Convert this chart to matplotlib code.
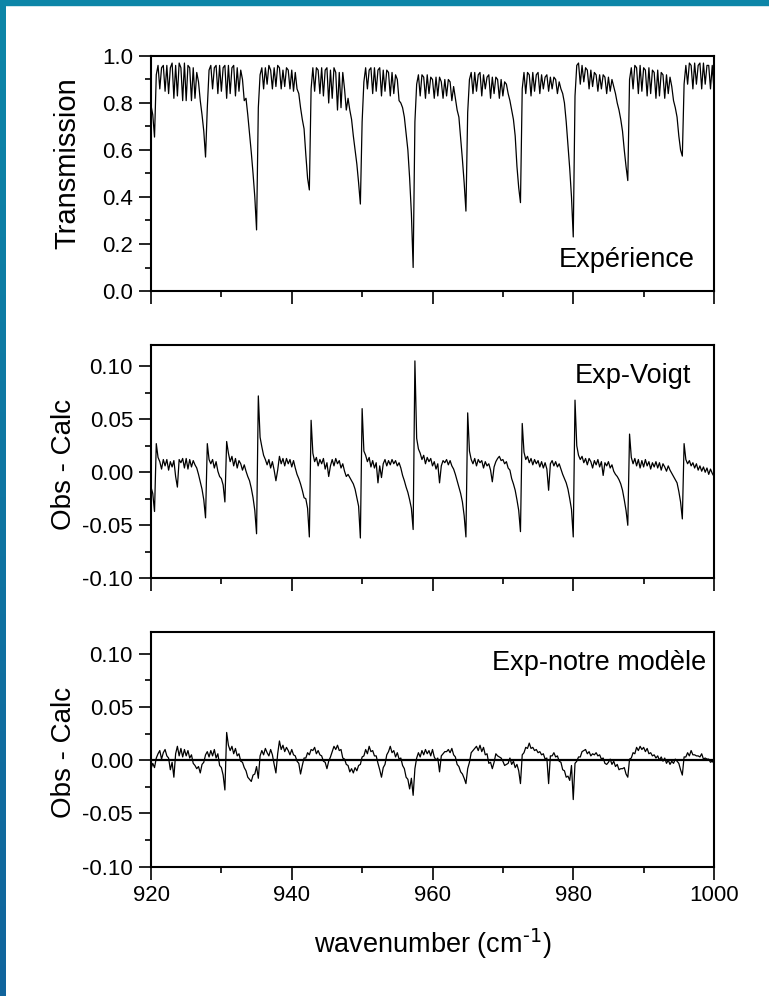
import numpy as np
import matplotlib
matplotlib.use("Agg")
import matplotlib.pyplot as plt
from matplotlib.ticker import MultipleLocator, FormatStrFormatter
from matplotlib.patches import Rectangle

plt.rcParams['font.family'] = ['Liberation Sans', 'DejaVu Sans']
plt.rcParams['mathtext.default'] = 'regular'
plt.rcParams['axes.unicode_minus'] = False

# wavenumber grid of the spectra (cm-1), one sample every 0.25
wn = np.arange(920.0, 1000.001, 0.25)

# transmission (experiment), 8 samples per 2 cm-1
transmission = [
    0.79, 0.75, 0.655, 0.92, 0.96, 0.86, 0.95, 0.96,   # 920
    0.85, 0.96, 0.84, 0.95, 0.97, 0.82, 0.96, 0.83,    # 922
    0.97, 0.95, 0.81, 0.97, 0.81, 0.96, 0.95, 0.81,    # 924
    0.95, 0.82, 0.93, 0.89, 0.81, 0.75, 0.68, 0.57,    # 926
    0.78, 0.94, 0.96, 0.86, 0.95, 0.96, 0.84, 0.96,    # 928
    0.85, 0.95, 0.96, 0.82, 0.96, 0.84, 0.95, 0.96,    # 930
    0.83, 0.95, 0.85, 0.94, 0.90, 0.81, 0.82, 0.75,    # 932
    0.67, 0.59, 0.50, 0.40, 0.26, 0.78, 0.92, 0.95,    # 934
    0.86, 0.95, 0.88, 0.96, 0.94, 0.86, 0.95, 0.87,    # 936
    0.96, 0.95, 0.86, 0.94, 0.87, 0.95, 0.94, 0.86,    # 938
    0.94, 0.85, 0.93, 0.86, 0.84, 0.78, 0.73, 0.69,    # 940
    0.58, 0.48, 0.43, 0.86, 0.95, 0.85, 0.95, 0.94,    # 942
    0.84, 0.95, 0.83, 0.94, 0.95, 0.80, 0.94, 0.82,    # 944
    0.95, 0.93, 0.77, 0.93, 0.78, 0.93, 0.86, 0.77,    # 946
    0.82, 0.77, 0.73, 0.66, 0.60, 0.54, 0.46, 0.37,    # 948
    0.72, 0.89, 0.95, 0.86, 0.94, 0.95, 0.84, 0.95,    # 950
    0.85, 0.94, 0.95, 0.83, 0.94, 0.85, 0.94, 0.93,    # 952
    0.83, 0.93, 0.84, 0.92, 0.90, 0.81, 0.80, 0.78,    # 954
    0.74, 0.67, 0.60, 0.48, 0.33, 0.10, 0.72, 0.88,    # 956
    0.92, 0.83, 0.92, 0.91, 0.82, 0.92, 0.84, 0.91,    # 958
    0.90, 0.82, 0.91, 0.83, 0.91, 0.89, 0.82, 0.90,    # 960
    0.83, 0.90, 0.89, 0.81, 0.87, 0.82, 0.77, 0.74,    # 962
    0.65, 0.56, 0.46, 0.34, 0.76, 0.90, 0.93, 0.84,    # 964
    0.93, 0.85, 0.92, 0.93, 0.83, 0.92, 0.86, 0.91,    # 966
    0.92, 0.82, 0.91, 0.84, 0.91, 0.90, 0.82, 0.90,    # 968
    0.83, 0.89, 0.88, 0.84, 0.81, 0.77, 0.73, 0.66,    # 970
    0.53, 0.44, 0.376, 0.86, 0.93, 0.84, 0.93, 0.92,   # 972
    0.83, 0.93, 0.85, 0.92, 0.93, 0.84, 0.92, 0.86,    # 974
    0.91, 0.92, 0.85, 0.91, 0.86, 0.91, 0.90, 0.84,    # 976
    0.89, 0.86, 0.84, 0.80, 0.72, 0.62, 0.52, 0.40,    # 978
    0.23, 0.83, 0.96, 0.97, 0.88, 0.96, 0.89, 0.95,    # 980
    0.94, 0.86, 0.94, 0.87, 0.93, 0.92, 0.85, 0.92,    # 982
    0.86, 0.92, 0.91, 0.84, 0.91, 0.85, 0.90, 0.87,    # 984
    0.84, 0.80, 0.77, 0.73, 0.68, 0.60, 0.53, 0.47,    # 986
    0.90, 0.95, 0.86, 0.96, 0.95, 0.84, 0.96, 0.85,    # 988
    0.95, 0.94, 0.83, 0.95, 0.84, 0.94, 0.93, 0.82,    # 990
    0.94, 0.83, 0.93, 0.92, 0.82, 0.92, 0.84, 0.91,    # 992
    0.87, 0.81, 0.78, 0.74, 0.66, 0.60, 0.574, 0.88,   # 994
    0.96, 0.88, 0.97, 0.96, 0.86, 0.97, 0.88, 0.96,    # 996
    0.97, 0.86, 0.97, 0.88, 0.96, 0.96, 0.86, 0.96,    # 998
    0.855,
]

# residuals experiment - Voigt profile
res_voigt = [
    -0.014, -0.020, -0.037, 0.027, 0.014, 0.010, 0.003, 0.012,    # 920
    0.006, 0.012, 0.002, 0.010, 0.005, 0.011, -0.004, -0.014,     # 922
    0.012, 0.009, 0.013, 0.004, 0.013, 0.003, 0.012, 0.005,       # 924
    0.011, 0.007, 0.004, -0.002, -0.009, -0.016, -0.026, -0.043,  # 926
    0.027, 0.012, 0.008, 0.012, 0.004, 0.010, 0.001, -0.004,      # 928
    -0.006, -0.012, -0.028, 0.029, 0.018, 0.010, 0.015, 0.006,    # 930
    0.013, 0.004, 0.011, 0.008, 0.002, 0.007, 0.001, -0.004,      # 932
    -0.008, -0.015, -0.024, -0.036, -0.058, 0.072, 0.033, 0.024,  # 934
    0.016, 0.012, 0.007, 0.012, 0.004, 0.010, 0.002, -0.008,      # 936
    0.002, 0.015, 0.008, 0.013, 0.006, 0.013, 0.008, 0.012,       # 938
    0.005, 0.011, 0.004, -0.002, -0.006, -0.011, -0.017, -0.024,  # 940
    -0.025, -0.034, -0.061, 0.049, 0.018, 0.010, 0.014, 0.006,    # 942
    0.012, 0.008, 0.013, 0.003, 0.009, -0.004, 0.006, 0.012,      # 944
    0.006, 0.013, 0.008, 0.011, 0.004, 0.008, 0.001, -0.004,      # 946
    -0.002, -0.005, -0.008, -0.011, -0.016, -0.024, -0.032, -0.062,  # 948
    0.060, 0.020, 0.016, 0.010, 0.014, 0.005, 0.011, 0.004,       # 950
    0.009, -0.010, 0.006, -0.005, 0.008, 0.012, 0.006, 0.011,     # 952
    0.007, 0.012, 0.008, 0.011, 0.006, 0.009, 0.004, -0.003,      # 954
    -0.008, -0.014, -0.019, -0.026, -0.034, -0.054, 0.105, 0.032,  # 956
    0.022, 0.018, 0.012, 0.016, 0.008, 0.014, 0.010, 0.013,       # 958
    0.006, 0.010, 0.003, 0.008, -0.010, 0.006, 0.011, 0.009,      # 960
    0.012, 0.007, 0.011, 0.006, 0.003, -0.002, -0.008, -0.014,    # 962
    -0.020, -0.028, -0.041, -0.061, 0.056, 0.020, 0.012, 0.008,   # 964
    0.013, 0.006, 0.012, 0.009, 0.011, 0.004, 0.010, 0.006,       # 966
    0.008, 0.002, -0.009, 0.005, 0.010, 0.013, 0.015, 0.011,      # 968
    0.012, 0.008, 0.010, 0.004, 0.002, -0.006, -0.011, -0.017,    # 970
    -0.026, -0.036, -0.056, 0.046, 0.019, 0.012, 0.015, 0.009,    # 972
    0.013, 0.007, 0.012, 0.008, 0.011, 0.005, 0.010, 0.004,       # 974
    0.009, 0.003, -0.017, 0.008, 0.011, 0.006, 0.010, 0.005,      # 976
    0.008, 0.003, -0.002, -0.006, -0.010, -0.016, -0.025, -0.035,  # 978
    -0.061, 0.068, 0.025, 0.016, 0.012, 0.015, 0.009, 0.013,      # 980
    0.007, 0.013, 0.010, 0.004, 0.011, 0.007, 0.012, 0.005,       # 982
    0.010, -0.003, 0.009, 0.006, 0.010, 0.004, 0.007, 0.001,      # 984
    -0.002, -0.004, -0.007, -0.011, -0.017, -0.026, -0.036, -0.050,  # 986
    0.036, 0.014, 0.008, 0.013, 0.006, 0.012, 0.004, 0.011,       # 988
    0.005, 0.012, 0.006, 0.010, 0.003, 0.009, 0.005, 0.010,       # 990
    0.004, 0.009, 0.002, 0.008, 0.005, 0.001, 0.006, 0.002,       # 992
    -0.001, -0.004, -0.007, -0.010, -0.018, -0.028, -0.044, 0.027,  # 994
    0.012, 0.008, 0.011, 0.006, 0.009, 0.004, 0.008, 0.002,       # 996
    0.006, 0.001, 0.005, 0.000, 0.004, -0.002, 0.003, -0.001,     # 998
    -0.004,
]

# residuals experiment - our model
res_model = [
    -0.008, -0.003, -0.007, 0.002, 0.006, 0.009, 0.001, 0.007,    # 920
    0.010, 0.004, 0.002, -0.009, -0.002, -0.016, 0.006, 0.013,    # 922
    0.004, 0.011, 0.003, 0.010, 0.004, 0.009, 0.002, 0.005,       # 924
    -0.003, -0.005, -0.008, -0.006, -0.012, -0.004, -0.002, 0.005,  # 926
    0.008, 0.003, 0.009, 0.004, 0.010, 0.002, 0.006, -0.005,      # 928
    -0.007, -0.014, -0.028, 0.026, 0.014, 0.009, 0.013, 0.006,    # 930
    0.011, 0.004, 0.006, -0.001, -0.002, -0.007, -0.010, -0.016,  # 932
    -0.018, -0.020, -0.014, -0.013, -0.006, -0.017, 0.004, 0.009,  # 934
    0.005, 0.011, 0.007, 0.004, 0.010, 0.005, -0.004, -0.012,     # 936
    0.006, 0.018, 0.010, 0.014, 0.008, 0.012, 0.009, 0.005,       # 938
    0.010, 0.005, 0.004, -0.001, -0.003, -0.013, -0.005, 0.002,   # 940
    0.002, 0.007, 0.005, 0.010, 0.009, 0.012, 0.006, 0.009,       # 942
    0.005, 0.004, -0.001, -0.002, -0.008, -0.001, 0.003, 0.008,   # 944
    0.013, 0.010, 0.014, 0.009, 0.010, 0.002, 0.001, -0.004,      # 946
    -0.005, -0.011, -0.008, -0.012, -0.007, -0.010, -0.005, -0.004,  # 948
    0.003, 0.004, 0.010, 0.006, 0.013, 0.008, 0.009, 0.004,       # 950
    0.004, -0.003, -0.009, -0.016, -0.007, -0.004, 0.005, 0.008,  # 952
    0.013, 0.007, 0.009, 0.003, 0.007, 0.001, 0.002, -0.005,      # 954
    -0.008, -0.016, -0.018, -0.027, -0.017, -0.033, -0.008, 0.002,  # 956
    0.007, 0.003, 0.009, 0.005, 0.010, 0.006, 0.009, 0.004,       # 958
    0.010, 0.003, 0.000, 0.002, -0.011, 0.004, 0.006, 0.008,      # 960
    0.008, 0.010, 0.007, 0.011, 0.005, 0.003, -0.004, -0.006,     # 962
    -0.011, -0.013, -0.017, -0.022, -0.008, -0.002, 0.007, 0.009,  # 964
    0.011, 0.013, 0.009, 0.014, 0.008, 0.012, 0.005, 0.006,       # 966
    -0.003, -0.002, -0.008, -0.002, 0.006, 0.004, 0.003, 0.002,   # 968
    -0.001, -0.005, -0.004, -0.003, 0.002, -0.004, -0.001, -0.007,  # 970
    -0.004, -0.010, -0.022, 0.005, 0.007, 0.012, 0.011, 0.016,    # 972
    0.011, 0.012, 0.009, 0.010, 0.007, 0.008, 0.005, 0.006,       # 974
    0.001, 0.002, -0.022, 0.004, 0.004, 0.007, 0.003, 0.004,      # 976
    -0.001, -0.002, -0.009, -0.010, -0.016, -0.015, -0.019, -0.005,  # 978
    -0.037, -0.003, -0.001, 0.003, 0.003, 0.008, 0.009, 0.010,    # 980
    0.006, 0.008, 0.004, 0.006, 0.005, 0.007, 0.004, 0.005,       # 982
    0.001, 0.002, -0.003, -0.004, -0.002, 0.001, -0.004, -0.001,  # 984
    -0.006, -0.004, -0.009, -0.008, -0.008, -0.007, -0.013, -0.016,  # 986
    0.001, 0.002, 0.007, 0.006, 0.012, 0.009, 0.013, 0.010,       # 988
    0.012, 0.008, 0.011, 0.006, 0.007, 0.004, 0.005, 0.002,       # 990
    0.004, 0.000, 0.003, -0.001, 0.002, -0.003, 0.000, -0.004,    # 992
    -0.001, -0.003, 0.001, -0.001, -0.003, -0.009, -0.014, 0.003,  # 994
    0.003, 0.007, 0.004, 0.009, 0.005, 0.005, 0.004, 0.004,       # 996
    0.003, 0.006, 0.001, 0.002, 0.001, 0.001, -0.002, -0.001,     # 998
    -0.003,
]

fig = plt.figure(figsize=(7.69, 9.96), dpi=100)

# blue frame on the left and top of the picture
bar = fig.add_axes([0, 0, 6 / 769, 1])
grad = np.linspace(0, 1, 256).reshape(-1, 1)
top_c = np.array([13, 134, 168]) / 255
bot_c = np.array([16, 100, 156]) / 255
bar.imshow(top_c + grad[..., None] * (bot_c - top_c), aspect='auto')
bar.axis('off')
fig.patches.append(Rectangle((0, 1 - 5 / 996), 1, 5 / 996, transform=fig.transFigure,
                             color=top_c, zorder=5))

left, width = 151 / 769, 563 / 769
ax1 = fig.add_axes([left, 1 - 291 / 996, width, 235 / 996])
ax2 = fig.add_axes([left, 1 - 578.3 / 996, width, 233.3 / 996])
ax3 = fig.add_axes([left, 1 - 866.7 / 996, width, 234.4 / 996])

ax1.plot(wn, transmission, color='k', lw=0.9)
ax2.plot(wn, res_voigt, color='k', lw=0.9)
ax3.plot(wn, res_model, color='k', lw=0.9)
ax3.axhline(0, color='k', lw=1.6)

ax1.set_ylim(0, 1.0)
ax1.yaxis.set_major_locator(MultipleLocator(0.2))
ax1.yaxis.set_minor_locator(MultipleLocator(0.1))
ax1.yaxis.set_major_formatter(FormatStrFormatter('%.1f'))

for ax in (ax2, ax3):
    ax.set_ylim(-0.1, 0.12)
    ax.yaxis.set_major_locator(MultipleLocator(0.05))
    ax.yaxis.set_minor_locator(MultipleLocator(0.025))
    ax.yaxis.set_major_formatter(FormatStrFormatter('%.2f'))

for ax in (ax1, ax2, ax3):
    ax.set_xlim(920, 1000)
    ax.xaxis.set_major_locator(MultipleLocator(20))
    ax.xaxis.set_minor_locator(MultipleLocator(10))
    for s in ax.spines.values():
        s.set_linewidth(1.5)
    ax.tick_params(which='both', direction='out', width=1.2, labelsize=16, pad=4)
    ax.tick_params(which='major', length=9)
    ax.tick_params(which='minor', length=4.5)

ax1.tick_params(labelbottom=False)
ax2.tick_params(labelbottom=False)

ax1.set_ylabel("Transmission", fontsize=21, va='center')
ax1.yaxis.set_label_coords(-0.148, 0.545)
ax2.set_ylabel("Obs - Calc", fontsize=20, va='center')
ax2.yaxis.set_label_coords(-0.155, 0.486)
ax3.set_ylabel("Obs - Calc", fontsize=20, va='center')
ax3.yaxis.set_label_coords(-0.155, 0.487)

ax3.set_xlabel(r"wavenumber (cm$^{\text{-1}}$)", fontsize=19.5, labelpad=15)

ax1.text(0.965, 0.103, "Expérience", transform=ax1.transAxes, fontsize=19.5,
         ha='right', va='baseline')
ax2.text(0.960, 0.836, "Exp-Voigt", transform=ax2.transAxes, fontsize=19.5,
         ha='right', va='baseline')
ax3.text(0.986, 0.839, "Exp-notre modèle", transform=ax3.transAxes, fontsize=19.5,
         ha='right', va='baseline')

fig.savefig("out.png", dpi=100)
